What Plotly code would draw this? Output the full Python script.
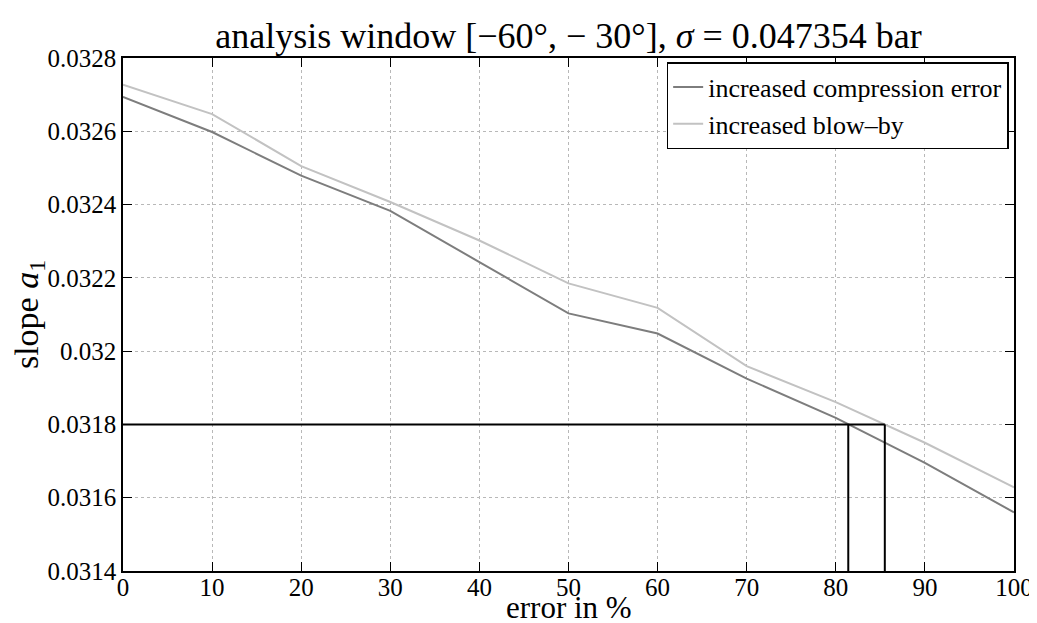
import plotly.graph_objects as go

# ---- data ----
error_pct = [0, 10, 20, 30, 40, 50, 60, 70, 80, 90, 100]
compression_error = [0.032694, 0.032598, 0.032479, 0.032383, 0.032243, 0.032103,
                     0.032048, 0.031925, 0.031818, 0.031695, 0.031560]
blow_by = [0.032727, 0.032647, 0.032505, 0.032407, 0.032302, 0.032185,
           0.032118, 0.031959, 0.031861, 0.031750, 0.031628]
threshold = 0.0318
crossings = [81.4, 85.5]   # x where each curve crosses the threshold

x_ticks = [0, 10, 20, 30, 40, 50, 60, 70, 80, 90, 100]
x_ticktext = ["0", "10", "20", "30", "40", "50", "60", "70", "80", "90", "100"]
y_ticks = [0.0314, 0.0316, 0.0318, 0.0320, 0.0322, 0.0324, 0.0326, 0.0328]
y_ticktext = ["0.0314", "0.0316", "0.0318", "0.032", "0.0322", "0.0324", "0.0326", "0.0328"]

y_min, y_max = 0.0314, 0.0328
x_min, x_max = 0, 100

FONT = "Liberation Serif"

fig = go.Figure()
fig.add_trace(go.Scatter(x=error_pct, y=compression_error, mode="lines",
                         name="increased compression error",
                         line=dict(color="#7d7d7d", width=2)))
fig.add_trace(go.Scatter(x=error_pct, y=blow_by, mode="lines",
                         name="increased blow\u2013by",
                         line=dict(color="#c2c2c2", width=2)))
# threshold lines
fig.add_trace(go.Scatter(x=[x_min, max(crossings)], y=[threshold, threshold], mode="lines",
                         showlegend=False, line=dict(color="black", width=2), hoverinfo="skip"))
for cx in crossings:
    fig.add_trace(go.Scatter(x=[cx, cx], y=[y_min, threshold], mode="lines",
                             showlegend=False, line=dict(color="black", width=2), hoverinfo="skip"))

fig.update_layout(
    width=1037, height=623,
    margin=dict(l=114, r=22, t=50, b=60),
    paper_bgcolor="white", plot_bgcolor="white",
    font=dict(family=FONT, color="black", size=25),
    title=dict(text="analysis window [\u221260\u00b0, \u2212 30\u00b0], <i>\u03c3</i> = 0.047354 bar",
               x=0.5, xref="paper", xanchor="center",
               y=1 - 27 / 623, yref="container", yanchor="middle",
               font=dict(family=FONT, size=36, color="black")),
    legend=dict(x=0.994, y=0.992, xanchor="right", yanchor="top",
                bgcolor="white", bordercolor="black", borderwidth=1.5,
                font=dict(family=FONT, size=26, color="black"),
                tracegroupgap=0, itemwidth=30),
    showlegend=True,
    annotations=[dict(text="error in %", xref="paper", yref="paper",
                      x=0.5, y=-55 / 513, xanchor="center", yanchor="bottom",
                      borderpad=0, showarrow=False,
                      font=dict(family=FONT, size=31, color="black"))],
)
fig.update_xaxes(range=[x_min, x_max], tickvals=x_ticks, ticktext=x_ticktext,
                 showline=True, linecolor="black", linewidth=1.5, mirror="ticks",
                 ticks="inside", ticklen=9, tickcolor="black", tickwidth=1,
                 showgrid=True, gridcolor="#b8b8b8", griddash="dot", gridwidth=1,
                 zeroline=False, tickfont=dict(size=25), ticklabelstandoff=-7)
fig.update_yaxes(range=[y_min, y_max], tickvals=y_ticks, ticktext=y_ticktext,
                 showline=True, linecolor="black", linewidth=1.5, mirror="ticks",
                 ticks="inside", ticklen=9, tickcolor="black", tickwidth=1,
                 showgrid=True, gridcolor="#b8b8b8", griddash="dot", gridwidth=1,
                 zeroline=False, tickfont=dict(size=25),
                 title=dict(text="slope <i>a</i><sub>1</sub>", font=dict(size=34), standoff=4))

fig.write_html("out.html")
